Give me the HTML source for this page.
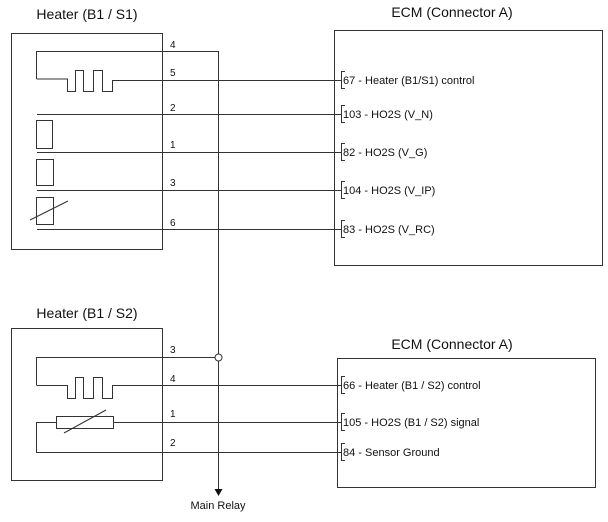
<!DOCTYPE html>
<html><head><meta charset="utf-8"><style>
html,body{margin:0;padding:0;background:#fff;}
svg{display:block;}
text{font-family:"Liberation Sans",sans-serif;fill:#111;}
</style></head><body>
<svg width="608" height="522" viewBox="0 0 608 522" xmlns="http://www.w3.org/2000/svg">
<g fill="none" stroke="#333" stroke-width="1">
<rect x="11.5" y="33.5" width="151" height="216"/>
<rect x="334.5" y="30.5" width="268" height="235"/>
<rect x="11.5" y="328.5" width="151" height="152"/>
<rect x="337.5" y="358.5" width="258" height="129"/>
<!-- S1 -->
<path d="M36.5,79 V51.5 H218.5 V490"/>
<path d="M36.5,79 H67.5 V91.5 H75.5 V70.5 H83.5 V91.5 H93.5 V70.5 H102.5 V91.5 H112.5 V80.5 H341"/>
<path d="M37,114.5 H341"/>
<rect x="36.5" y="120.5" width="16" height="28"/>
<path d="M37,152.5 H341"/>
<rect x="36.5" y="159.5" width="17" height="26"/>
<path d="M37,190.5 H341"/>
<rect x="36.5" y="197.5" width="17" height="27"/>
<path d="M30,220 L68,201"/>
<path d="M37,229.5 H341"/>
<!-- S2 -->
<path d="M36.5,385 V357.5 H215"/>
<path d="M36.5,385.5 H67.5 V398.5 H75.5 V377.5 H83.5 V398.5 H93.5 V377.5 H102.5 V398.5 H112.5 V385.5 H341"/>
<rect x="56.5" y="416.5" width="57" height="12"/>
<path d="M64,433 L106,410"/>
<path d="M113,422.5 H341"/>
<path d="M56.5,422.5 H36.5 V452.5 H341"/>
<!-- brackets -->
<path d="M345,71.5 H341.5 V88.5 H345 M345,105.5 H341.5 V122.5 H345 M345,143.5 H341.5 V160.5 H345 M345,181.5 H341.5 V198.5 H345 M345,220.5 H341.5 V237.5 H345"/>
<path d="M345,376.5 H341.5 V393.5 H345 M345,413.5 H341.5 V430.5 H345 M345,443.5 H341.5 V460.5 H345"/>
</g>
<circle cx="218.5" cy="357.5" r="3.5" fill="#fff" stroke="#333"/>
<path d="M214.5,489 H222.5 L218.5,496 Z" fill="#111"/>
<g font-size="14">
<text x="87" y="19" text-anchor="middle">Heater (B1 / S1)</text>
<text x="452" y="17" text-anchor="middle">ECM (Connector A)</text>
<text x="87" y="318" text-anchor="middle">Heater (B1 / S2)</text>
<text x="452" y="349" text-anchor="middle">ECM (Connector A)</text>
</g>
<g font-size="10">
<text x="170" y="48">4</text><text x="170" y="76">5</text><text x="170" y="111">2</text>
<text x="170" y="148">1</text><text x="170" y="186">3</text><text x="170" y="226">6</text>
<text x="170" y="353">3</text><text x="170" y="382">4</text><text x="170" y="417">1</text><text x="170" y="446">2</text>
<text x="218" y="509" text-anchor="middle" font-size="11">Main Relay</text>
</g>
<g font-size="11">
<text x="343" y="84">67 - Heater (B1/S1) control</text>
<text x="343" y="118">103 - HO2S (V_N)</text>
<text x="343" y="156">82 - HO2S (V_G)</text>
<text x="343" y="194">104 - HO2S (V_IP)</text>
<text x="343" y="233">83 - HO2S (V_RC)</text>
<text x="343" y="389">66 - Heater (B1 / S2) control</text>
<text x="343" y="426">105 - HO2S (B1 / S2) signal</text>
<text x="343" y="456">84 - Sensor Ground</text>
</g>
</svg>
</body></html>
